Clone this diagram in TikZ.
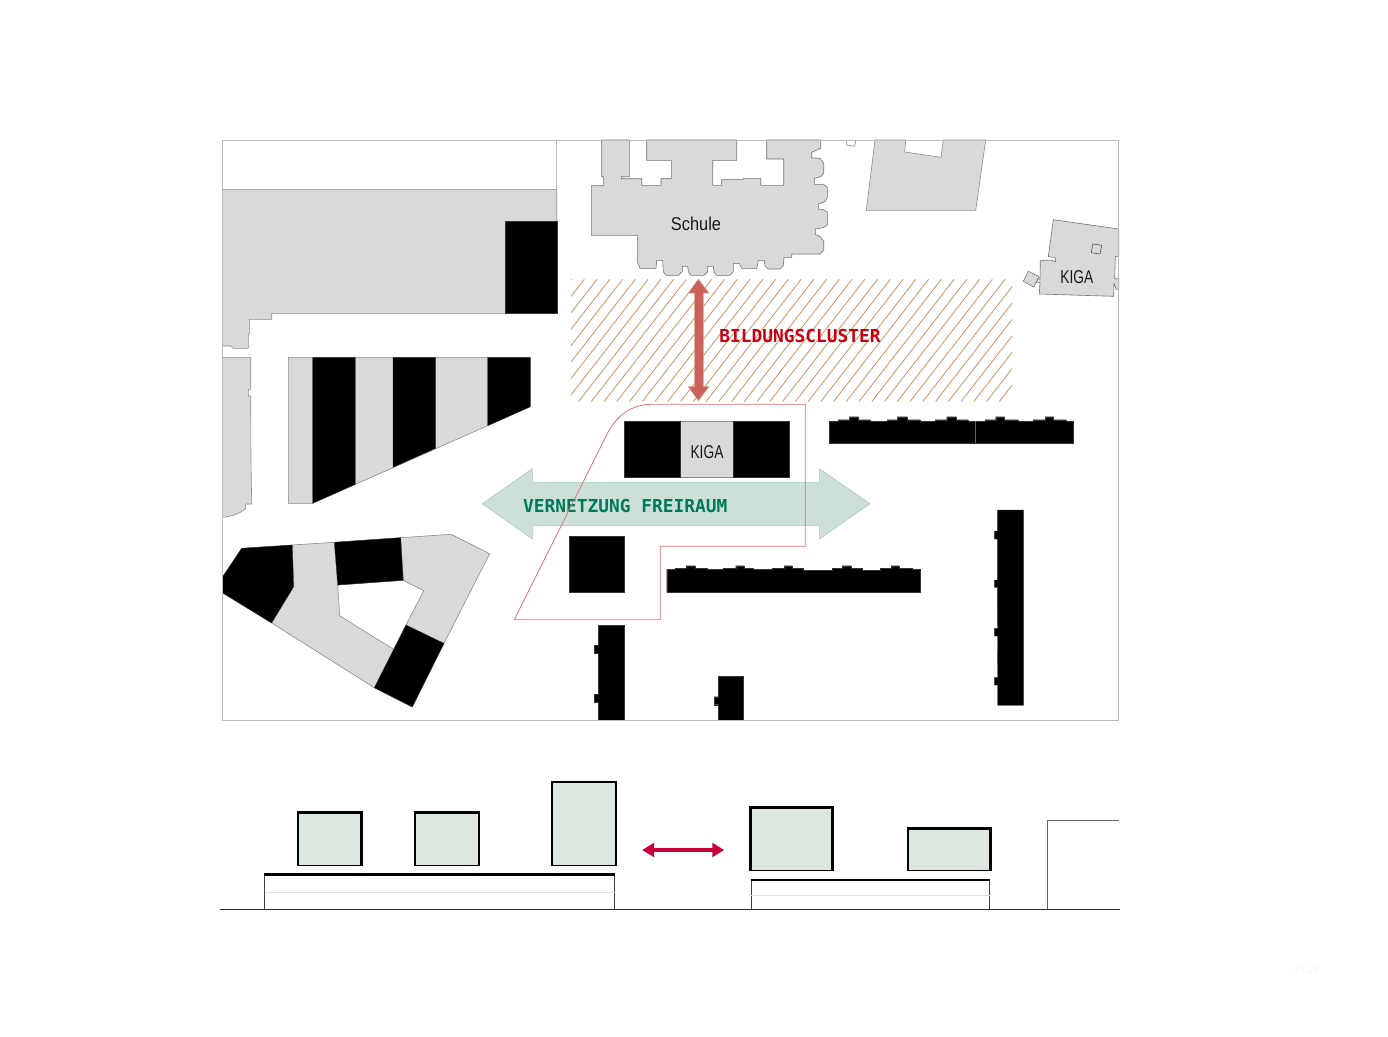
\documentclass[tikz,border=0pt]{standalone}
\usepackage{fontspec}
\usepackage{graphicx}
\setmainfont{Liberation Sans}
\newfontfamily\labelmono{DejaVu Sans Mono}
\definecolor{blockgray}{HTML}{D9D9D9}
\definecolor{edgegray}{HTML}{8C8C8C}
\definecolor{framegray}{HTML}{BBBBBB}
\definecolor{hatchorange}{HTML}{CC8F5A}
\definecolor{arrowred}{HTML}{C8625C}
\definecolor{arrowredge}{HTML}{DDA488}
\definecolor{labelred}{HTML}{C80012}
\definecolor{freigreen}{HTML}{CDE0D7}
\definecolor{freiedge}{HTML}{A9CDBD}
\definecolor{labelgreen}{HTML}{007A5C}
\definecolor{outlinered}{HTML}{D8737A}
\definecolor{boxgreen}{HTML}{DCE8DF}
\definecolor{crimson}{HTML}{C8003C}
\tikzset{
  x=1pt,y=-1pt,
  grayblock/.style={fill=blockgray,draw=edgegray,line width=.6pt,line join=round},
  blackblock/.style={fill=black,draw=black!80,line width=.3pt},
  plantext/.style={font=\fontsize{18.6}{20}\selectfont,text=black!90,inner sep=0pt},
  monolabel/.style={font=\labelmono\bfseries\fontsize{17.85}{20}\selectfont,inner sep=0pt},
  thinline/.style={line width=.8pt,draw=black!75},
}
\begin{document}
\begin{tikzpicture}
\useasboundingbox (0,0) rectangle (1388,1036);
\fill[white] (0,0) rectangle (1388,1036);

% top-left block
\path[grayblock] (222.3,189.3) -- (556.7,189.3) -- (556.7,313.3) -- (271.7,313.3) -- (271.7,319.3) -- (249.3,319.3) -- (249.3,334) -- (248.3,334) -- (248.3,348.3) -- (233.3,348.3) -- (231,346) -- (222.3,346) -- cycle;
\path[blackblock] (505,221) rectangle (556.9,313.2);

% left edge block
\path[grayblock] (222.3,357.3) -- (250.7,357.3) -- (250.7,389.3) -- (248.3,389.3) -- (248.3,396) -- (250.7,396) -- (251,460) -- (251.7,504) -- (245.7,504) -- (245.7,508.3) .. controls (240,514) and (231,516.5) .. (222.3,517.3) -- cycle;

% stepped slanted block
\path[grayblock] (288.3,357.3) -- (530.3,357.3) -- (530.3,406.7) -- (312.7,503.3) -- (288.3,503.3) -- cycle;
\path[blackblock] (312.7,357.3) -- (355.3,357.3) -- (355.3,484.3) -- (312.7,503.3) -- cycle;
\path[blackblock] (393,357.3) -- (435.7,357.3) -- (435.7,448.3) -- (393,467.3) -- cycle;
\path[blackblock] (487.7,357.3) -- (530.3,357.3) -- (530.3,406.7) -- (487.7,425.7) -- cycle;

% courtyard block
\path[grayblock,even odd rule] (222.3,577.3) -- (241.7,548.3) -- (292.3,545) -- (334.3,542.3) -- (400.7,537.7) -- (451,534.3) -- (489.7,553.7) -- (444,643.3) -- (412.3,707) -- (374.3,687.7) -- (271.7,623) -- (222.3,592.7) -- cycle
 (337.7,585) -- (403.3,580.3) -- (423.7,590.7) -- (406,625) -- (393.8,649.5) -- (339.7,615.7) -- cycle;
\path[blackblock] (222.3,577.3) -- (241.7,548.3) -- (292.3,545) -- (293.7,586.7) -- (271.7,623) -- (222.3,592.7) -- cycle;
\path[blackblock] (334.3,542.3) -- (400.7,537.7) -- (403.3,580.3) -- (337.7,585) -- cycle;
\path[blackblock] (406,625) -- (444,643.3) -- (412.3,707) -- (374.3,687.7) -- cycle;

% school
\path[grayblock,draw=black!55] (601.7,140) -- (601.7,176.7) -- (603.3,176.7) -- (603.3,185.7) -- (591.3,185.7) -- (591.3,235.3) -- (637.3,235.3) -- (637.3,261.7) -- (640,268.3) -- (656,268.3) -- (656.7,260.3) -- (662.7,260.3) -- (663.3,271.7) -- (666,275.3) -- (678.3,275.3) -- (682.3,271.7) -- (682.3,266.3) -- (687.7,266.3) -- (688.3,271.7) -- (691,275.3) -- (704,275.3) -- (707.7,271.7) -- (707.7,266.3) -- (713.3,266.3) -- (714,271.7) -- (716.7,275.3) -- (730,275.3) -- (733.3,271.7) -- (733.3,263.3) -- (739.3,263.3) -- (741.7,268.3) -- (756.7,268.3) -- (758.3,260.3) -- (764.3,260.3) -- (765,265.7) -- (768.3,269) -- (780,269) -- (783.3,265.7) -- (784,257.3) -- (791.7,257.3) -- (791.7,254) -- (820,254) -- (823.7,250) -- (823.7,241) -- (820,236.7) -- (815.3,234.3) -- (815.3,229) -- (823.3,227.7) -- (827.3,225) -- (827.3,212.3) -- (823.3,209.7) -- (818.3,209) -- (818.3,204) -- (825,201.7) -- (827.3,197.7) -- (827.3,187.3) -- (823.3,184.3) -- (814.3,184.3) -- (814.3,178.3) -- (820.7,176.7) -- (823.7,173.3) -- (823.7,163.3) -- (820,158.3) -- (811.7,157.7) -- (811.7,152.3) -- (820.7,148.3) -- (820.7,140) -- (766.7,140) -- (766.7,159) -- (783.7,159) -- (783.7,185.3) -- (760.7,185.3) -- (760.7,178.3) -- (743.3,178.3) -- (743.3,179.3) -- (721.7,179.3) -- (721.7,185.3) -- (712.7,185.3) -- (712.7,160.3) -- (736.7,160.3) -- (736.7,140) -- (646.7,140) -- (646.7,160.3) -- (671.3,160.3) -- (671.3,178.7) -- (661,178.7) -- (661,185.3) -- (641.7,185.3) -- (641.7,178.7) -- (621.3,178.7) -- (621.3,176.7) -- (629.3,176.7) -- (629.3,140) -- cycle;
\node[plantext] (schule) at (696,224) {\scalebox{.88}[1]{Schule}};

% top-right blocks
\path[grayblock] (875,140) -- (866.3,210.3) -- (975.7,210.3) -- (985.7,140) -- (943.3,140) -- (941,157.3) -- (904.7,152) -- (905.7,140) -- cycle;
\path[draw=edgegray,line width=.6pt,fill=white] (846.7,140) -- (846.7,145) -- (854.7,146.3) -- (855.7,140);

% small KIGA
\path[grayblock,draw=black!55] (1053.3,219.7) -- (1118.7,229) -- (1118.7,256.3) -- (1115.3,256.3) -- (1114.7,279) -- (1116,279) -- (1118.7,278.3) -- (1118.7,289.3) -- (1116,289.3) -- (1114,283) -- (1113.7,296.3) -- (1039.3,294) -- (1040,282.3) -- (1035.7,282.3) -- (1036.5,279) -- (1040,279) -- (1040.3,260.7) -- (1051,260) -- (1055.7,261.7) -- (1055,257.3) -- (1048.3,256.7) -- cycle;
\path[grayblock,draw=black!55] (1028.3,271.3) -- (1039,276.7) -- (1033.7,287) -- (1023.3,281.3) -- cycle;
\path[grayblock,draw=black!65] (1092.7,244) -- (1101.7,245.3) -- (1100,254) -- (1091.3,252.7) -- cycle;
\node[plantext] (kigaeast) at (1076.8,277.5) {\scalebox{.74}[1]{KIGA}};

% hatching
\begin{scope}
\clip (571,279) rectangle (1012,401.5);
\foreach \k in {-1,...,42}{
  \draw[hatchorange,line width=.75pt] ({584.3+12.75*\k},279.3) -- ({584.3+12.75*\k-95},401.5);
}
\end{scope}

% red double arrow
\path[fill=arrowred,draw=arrowredge,line width=.5pt,line join=miter] (698.3,279.3) -- (709,293) -- (703.3,293) -- (703.3,386.7) -- (709,386.7) -- (698.3,400.7) -- (688.3,386.7) -- (694.6,386.7) -- (694.6,293) -- (688.3,293) -- cycle;
\node[monolabel,text=labelred] (bildung) at (800,336) {BILDUNGSCLUSTER};

% KIGA centre
\path[fill=blockgray,draw=edgegray,line width=.6pt] (624.5,421.5) rectangle (788.8,477.5);
\path[blackblock] (624.5,421.5) rectangle (680.3,477.5);
\path[blackblock] (733.3,421.5) rectangle (788.8,477.5);
\node[plantext] (kigacentre) at (707,452) {\scalebox{.74}[1]{KIGA}};

% green arrow
\path[fill=freigreen,draw=freiedge,line width=.6pt] (482.3,503.7) -- (532.3,468.7) -- (532.3,482.3) -- (819.3,482.3) -- (819.3,468.7) -- (870,503.7) -- (819.3,539) -- (819.3,525.7) -- (532.3,525.7) -- (532.3,539) -- cycle;
\node[monolabel,text=labelgreen] (freiraum) at (625.3,506) {VERNETZUNG FREIRAUM};

% black bars
\path[blackblock] (569.2,536.2) rectangle (624.5,592.2);
\path[blackblock] (829,421) -- (838,421) -- (838,419.7) -- (849.3,419.7) -- (849.3,416.7) -- (858.3,416.7) -- (858.3,419.7) -- (870,419.7) -- (870,421) -- (887,421) -- (887,419.7) -- (897.3,419.7) -- (897.3,416.7) -- (907.3,416.7) -- (907.3,419.7) -- (920,419.7) -- (920,421) -- (935,421) -- (935,419.7) -- (946.7,419.7) -- (946.7,416.7) -- (956,416.7) -- (956,419.7) -- (968,419.7) -- (968,421) -- (985,421) -- (985,419.7) -- (995.7,419.7) -- (995.7,416.7) -- (1004.3,416.7) -- (1004.3,419.7) -- (1018,419.7) -- (1018,421) -- (1033,421) -- (1033,419.7) -- (1045,419.7) -- (1045,416.7) -- (1053.3,416.7) -- (1053.3,419.7) -- (1066,419.7) -- (1066,421) -- (1073.3,421) -- (1073.3,443.3) -- (829,443.3) -- cycle;
\draw[black!60,line width=.4pt] (975.3,421) -- (975.3,443.3);
\path[blackblock] (666.7,569.3) -- (675,569.3) -- (675,568.3) -- (686,568.3) -- (686,565.7) -- (695,565.7) -- (695,568.3) -- (706.7,568.3) -- (706.7,569.3) -- (723,569.3) -- (723,568.3) -- (735.7,568.3) -- (735.7,565.7) -- (744,565.7) -- (744,568.3) -- (753,568.3) -- (753,569.3) -- (772,569.3) -- (772,568.3) -- (784,568.3) -- (784,565.7) -- (792,565.7) -- (792,568.3) -- (803,568.3) -- (803,570) -- (832,570) -- (832,568.3) -- (842.3,568.3) -- (842.3,565.7) -- (851,565.7) -- (851,568.3) -- (862,568.3) -- (862,570) -- (880,570) -- (880,568.3) -- (891,568.3) -- (891,565.7) -- (899.3,565.7) -- (899.3,568.3) -- (912,568.3) -- (912,569.3) -- (920,569.3) -- (920,592.3) -- (666.7,592.3) -- cycle;
\path[blackblock] (997.3,510) -- (1023.7,510) -- (1023.7,705.3) -- (997.7,705.3) -- (997.7,685) -- (994.3,685) -- (994.3,677.3) -- (997.7,677.3) -- (997.5,636) -- (994.3,636) -- (994.3,628.3) -- (997.5,628.3) -- (997.3,587.3) -- (994.3,587.3) -- (994.3,580) -- (997.3,580) -- (997.3,539) -- (994.3,539) -- (994.3,531) -- (997.3,531) -- cycle;
\path[blackblock] (598.3,625) -- (624.3,625) -- (624.3,720.3) -- (598.3,720.3) -- (598.3,702) -- (594.3,702) -- (594.3,694) -- (598.3,694) -- (598.3,653.3) -- (594.3,653.3) -- (594.3,645.3) -- (598.3,645.3) -- cycle;
\path[blackblock] (718.3,676) -- (743.5,676) -- (743.5,720.3) -- (718.3,720.3) -- (718.3,704.7) -- (714.3,704.7) -- (714.3,696.7) -- (718.3,696.7) -- cycle;

% red outline
\draw[outlinered,line width=.8pt,line join=miter] (514.3,619.7) -- (608.3,431.7) .. controls (618,414) and (633,404.3) .. (651.7,404.3) -- (805.3,404.3) -- (805.3,546.3) -- (660.3,546.3) -- (660.3,619.7) -- cycle;

% frame
\draw[framegray,line width=.8pt] (222.3,140) rectangle (1118.7,720.5);
\draw[framegray,line width=.8pt] (556.7,140) -- (556.7,189.3);

% section: plinths and ground
\draw[thinline] (264.7,909.7) -- (264.7,874.5) (614.7,874.5) -- (614.7,909.7);
\draw[black!12,line width=.7pt] (264.7,892.3) -- (614.7,892.3);
\draw[black,line width=2.8pt] (264.3,874.5) -- (615,874.5);
\draw[thinline] (751,909.7) -- (751,880) (989.7,880) -- (989.7,909.7);
\draw[black!12,line width=.7pt] (751,895.3) -- (989.7,895.3);
\draw[black,line width=2.8pt] (750.7,880) -- (990,880);
\draw[black!60,line width=.8pt] (1118.7,820.7) -- (1047.7,820.7) -- (1047.7,909.7);
\draw[black!85,line width=1.5pt] (220,909.7) -- (1120,909.7);

% section: boxes (outer black, inner green, thin foot)
\foreach \xa/\ya/\xb/\yb in {296.7/811.3/362.7/865.7, 413.7/811.3/480/865.7, 550.7/780.7/617/865.7, 749/806/833.7/870.7, 906.7/827.3/991.7/870.7}{
  \fill[black] (\xa,\ya) rectangle (\xb,\yb);
  \fill[boxgreen] ({\xa+2.6},{\ya+2.6}) rectangle ({\xb-2.3},{\yb-.7});
}

% section: crimson double arrow
\path[fill=crimson] (642.3,850) -- (654,842.7) -- (654,848.2) -- (712.3,848.2) -- (712.3,842.7) -- (724,850) -- (712.3,857.3) -- (712.3,851.8) -- (654,851.8) -- (654,857.3) -- cycle;

\node[text=black!4,font=\fontsize{10}{12}\selectfont,inner sep=0pt] (sheetno) at (1306.7,970) {51.18};
\end{tikzpicture}
\end{document}
